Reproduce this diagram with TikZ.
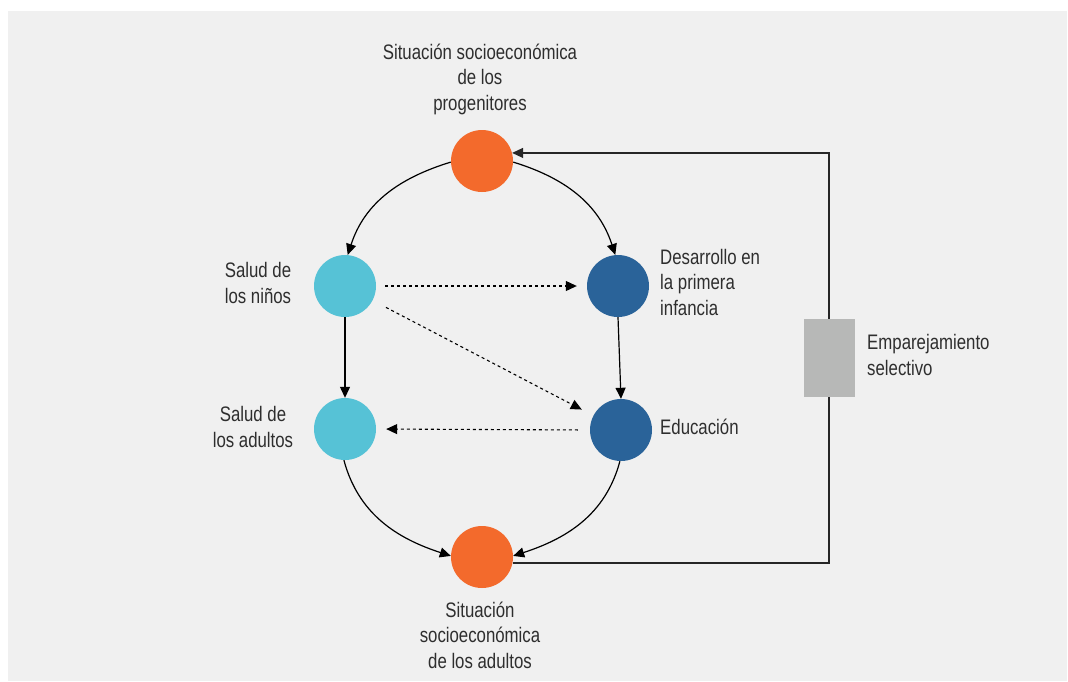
\documentclass[tikz,border=0pt]{standalone}
\usepackage{fontspec}
\setmainfont{Liberation Sans}[FakeStretch=0.8]
\usetikzlibrary{arrows.meta}
\definecolor{bgc}{HTML}{F0F0F0}
\definecolor{orng}{HTML}{F36A2C}
\definecolor{lblue}{HTML}{56C2D6}
\definecolor{dblue}{HTML}{2A6399}
\definecolor{boxg}{HTML}{B7B8B7}
\definecolor{txt}{HTML}{2E2E2E}
\tikzset{
  dot/.style={circle, minimum size=62pt, inner sep=0pt, draw=none},
  lbl/.style={inner sep=0pt, text=txt, font=\fontsize{21}{25.5}\selectfont},
  conn/.style={draw=black, line width=1.2pt, -{Triangle[length=11pt,width=10pt]}},
  dotconn/.style={draw=black, line width=1.1pt, dash pattern=on 3pt off 3pt, -{Triangle[length=11pt,width=10pt]}},
  loopline/.style={draw=black!85, line width=1.2pt}
}
\begin{document}
\begin{tikzpicture}[x=1pt,y=1pt]
\useasboundingbox (0,0) rectangle (1068,-681);
\fill[bgc] (8,-11) rectangle (1067,-681);

% circles
\node[dot, fill=orng]  (top) at (482,-161) {};
\node[dot, fill=lblue] (kid) at (345,-286) {};
\node[dot, fill=dblue] (des) at (618,-286) {};
\node[dot, fill=lblue] (adu) at (345,-429) {};
\node[dot, fill=dblue] (edu) at (621,-430) {};
\node[dot, fill=orng]  (bot) at (482,-557) {};
\node[rectangle, fill=boxg, minimum width=51pt, minimum height=78pt, inner sep=0pt] (emp) at (829,-358) {};

% labels
\node[lbl, align=center] (ltop) at (480,-79) {Situación socioeconómica\\de los\\progenitores};
\node[lbl, align=center] (lkid) at (258,-283) {Salud de\\los niños};
\node[lbl, align=center] (ladu) at (253,-427) {Salud de\\los adultos};
\node[lbl, align=left, anchor=west] (ldes) at (660,-282) {Desarrollo en\\la primera\\infancia};
\node[lbl, align=left, anchor=west] (ledu) at (660,-427) {Educación};
\node[lbl, align=left, anchor=west] (lemp) at (867,-355) {Emparejamiento\\selectivo};
\node[lbl, align=center] (lbot) at (480,-635) {Situación\\socioeconómica\\de los adultos};

% solid connectors
\draw[conn] (top.182) to[out=197, in=72] (kid.85);
\draw[conn] (top.-2) to[out=-17, in=108] (des.95);
\draw[conn] (kid.south) -- (adu.north);
\draw[conn] (des.south) -- (edu.north);
\draw[conn] (adu.-92) to[out=-75, in=162] (bot.178);
\draw[conn] (edu.-92) to[out=-105, in=18] (bot.2);

% dotted connectors
\draw[dotconn, shorten <=9pt, shorten >=10pt] (kid.east) -- (des.west);
\draw[dotconn, shorten <=15pt, shorten >=13pt] (kid) -- (edu);
\draw[dotconn, shorten <=12pt, shorten >=10pt] (edu.west) -- (adu.east);

% feedback loop
\draw[loopline] (bot.-11) -| (emp.south);
\draw[loopline, -{Triangle[length=11pt,width=10pt]}] (emp.north) |- (top.15);
\end{tikzpicture}
\end{document}
